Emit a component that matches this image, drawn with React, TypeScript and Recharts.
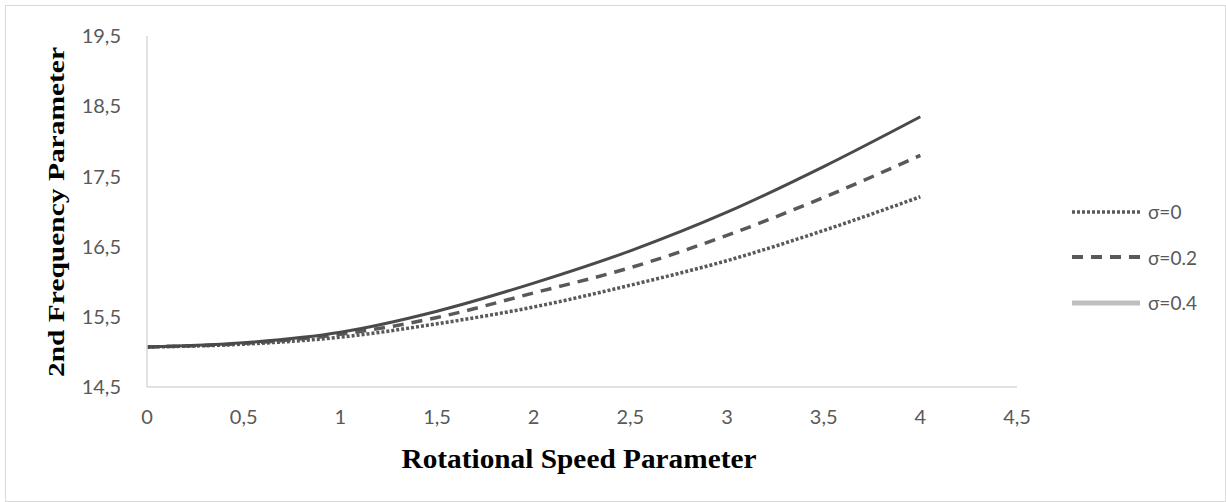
import React from "react";
import { LineChart, Line, XAxis, YAxis } from "recharts";

// rotational speed parameter
const speeds = [0, 0.5, 1, 1.5, 2, 2.5, 3, 3.5, 4];
// 2nd frequency parameter for each taper ratio
const sigma0 = [15.07, 15.11, 15.21, 15.4, 15.64, 15.95, 16.3, 16.73, 17.21];
const sigma02 = [15.07, 15.12, 15.25, 15.49, 15.84, 16.2, 16.66, 17.2, 17.8];
const sigma04 = [15.07, 15.13, 15.28, 15.58, 15.98, 16.44, 16.99, 17.64, 18.35];

const xTicks = [0, 0.5, 1, 1.5, 2, 2.5, 3, 3.5, 4, 4.5];
const yTicks = [14.5, 15.5, 16.5, 17.5, 18.5, 19.5];

const legendItems = [
  { name: "σ=0", color: "#595959", dash: "3 2", width: 3.5 },
  { name: "σ=0.2", color: "#595959", dash: "11 8", width: 4 },
  { name: "σ=0.4", color: "#bfbfbf", dash: undefined, width: 5 },
];

const data = speeds.map((s, i) => ({
  x: s,
  s0: sigma0[i],
  s02: sigma02[i],
  s04: sigma04[i],
}));

const comma = (v: number) => String(v).replace(".", ",");
const labelFont = "Lato, sans-serif";
const tickStyle = { fill: "#595959", fontSize: 20, fontFamily: labelFont };
const titleFont = "'Liberation Serif', 'Times New Roman', serif";

function LegendBox() {
  return (
    <div style={{ position: "absolute", left: 1066, top: 183, width: 150 }}>
      {legendItems.map((it) => (
        <div key={it.name} style={{ display: "flex", alignItems: "center", height: 45.5 }}>
          <svg width={68} height={10}>
            <line
              x1={0}
              y1={5}
              x2={68}
              y2={5}
              stroke={it.color}
              strokeWidth={it.width}
              strokeDasharray={it.dash}
            />
          </svg>
          <span style={{ marginLeft: 8, color: "#595959", fontSize: 19, fontFamily: labelFont }}>
            {it.name}
          </span>
        </div>
      ))}
    </div>
  );
}

export default function App() {
  return (
    <div
      style={{
        position: "absolute",
        left: 5,
        top: 5,
        width: 1219,
        height: 495,
        border: "1px solid #d9d9d9",
        background: "#fff",
      }}
    >
      <LineChart width={1219} height={495} data={data} margin={{ top: 30, right: 208, bottom: 74, left: 0 }}>
        <XAxis
          dataKey="x"
          type="number"
          domain={[0, 4.5]}
          ticks={xTicks}
          tickFormatter={comma}
          tickLine={false}
          tickMargin={17}
          stroke="#d9d9d9"
          strokeWidth={1.5}
          tick={tickStyle}
          height={40}
        />
        <YAxis
          type="number"
          domain={[14.5, 19.5]}
          ticks={yTicks}
          tickFormatter={comma}
          tickLine={false}
          tickMargin={20}
          stroke="#d9d9d9"
          strokeWidth={1.5}
          tick={tickStyle}
          width={141}
        />
        <text
          x={573}
          y={462}
          textAnchor="middle"
          textLength={355}
          lengthAdjust="spacingAndGlyphs"
          style={{ fill: "#000", fontSize: 28, fontWeight: "bold", fontFamily: titleFont }}
        >
          Rotational Speed Parameter
        </text>
        <text
          x={0}
          y={0}
          transform="translate(58, 206) rotate(-90)"
          textAnchor="middle"
          textLength={330}
          lengthAdjust="spacingAndGlyphs"
          style={{ fill: "#000", fontSize: 24, fontWeight: "bold", fontFamily: titleFont }}
        >
          2nd Frequency Parameter
        </text>
        <Line
          dataKey="s0"
          name="σ=0"
          type="monotone"
          stroke="#595959"
          strokeWidth={3.5}
          strokeDasharray="3 2"
          dot={false}
          isAnimationActive={false}
        />
        <Line
          dataKey="s02"
          name="σ=0.2"
          type="monotone"
          stroke="#595959"
          strokeWidth={3.5}
          strokeDasharray="11 8"
          dot={false}
          isAnimationActive={false}
        />
        <Line
          dataKey="s04"
          name="σ=0.4"
          type="monotone"
          stroke="#4a4a4a"
          strokeWidth={3}
          dot={false}
          isAnimationActive={false}
        />
      </LineChart>
      <LegendBox />
    </div>
  );
}
